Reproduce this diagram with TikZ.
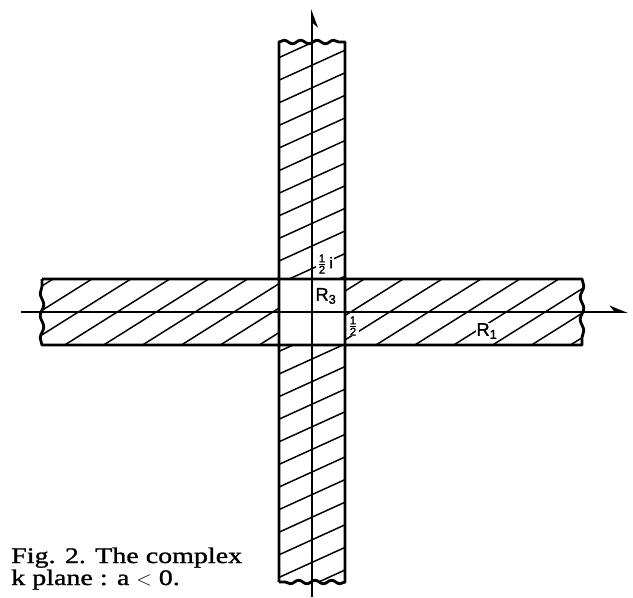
\documentclass[tikz,border=0pt]{standalone}
\usepackage{fontspec}
\setmainfont{Liberation Serif}
\newfontfamily\capfont[FakeStretch=1.26,FakeBold=1.2]{Liberation Serif}
\newfontfamily\labfont[FakeBold=1.5]{Liberation Sans}
\usetikzlibrary{arrows.meta,decorations.pathmorphing}
\newcommand\halfnum{$\frac{\mbox{\labfont\fontsize{8}{8}\selectfont 1}}%
  {\mbox{\labfont\fontsize{8}{8}\selectfont 2}}$}
\tikzset{
  % Strip outline and wavy cut ends
  stripline/.style={line width=2pt, line join=round},
  wave/.style={decoration={snake, segment length=#1, amplitude=0.45mm}},
  % Hatching and axes
  hatch/.style={line width=1.05pt},
  axisline/.style={line width=1.4pt},
  % Labels
  rlbl/.style={font=\labfont\fontsize{13}{13}\selectfont, inner sep=0.5pt, fill=white},
  hlbl/.style={font=\labfont\fontsize{11}{11}\selectfont, inner sep=0.5pt, fill=white},
  captxt/.style={font=\capfont\fontsize{15.8}{15.8}\selectfont, anchor=base west, inner sep=0pt},
}
\begin{document}
\begin{tikzpicture}[x=0.25mm,y=-0.25mm]
    \useasboundingbox (0,0) rectangle (633,597);

    % ── Hatching, vertical strip ───────────────────────────
    \begin{scope}
      \clip (279,42) rectangle (345,279) (279,345) rectangle (345,582);
      \foreach \k in {-3,...,25}
        \draw[hatch] (270,{61.7+22.6*\k}) -- (354,{23.5+22.6*\k});
    \end{scope}

    % ── Hatching, horizontal strip ─────────────────────────
    \begin{scope}
      \clip (42,279) rectangle (279,345) (345,279) rectangle (582,345);
      \foreach \k in {-2,...,15}
        \draw[hatch] ({106.3+38.9*\k},270) -- ({-29+38.9*\k},355);
    \end{scope}

    % ── Strip outlines ─────────────────────────────────────
    \draw[stripline] (279,582) -- (279,42)
          decorate[wave=4.12mm]{ -- (345,42)} -- (345,582)
          decorate[wave=4.12mm]{ -- (279,582)};
    \draw[stripline] (42,279) -- (582,279)
          decorate[wave=5.58mm]{ -- (582,345)} -- (42,345)
          decorate[wave=5.58mm]{ -- (42,279)};

    % ── Axes ───────────────────────────────────────────────
    \coordinate (xstart) at (21,312);
    \coordinate (xend)   at (628,312);
    \coordinate (ystart) at (312,597);
    \coordinate (yend)   at (312,9);
    \draw[axisline,-{Stealth[harpoon,length=4mm,width=3.2mm]}] (xstart) -- (xend);
    \draw[axisline,-{Stealth[harpoon,swap,length=4mm,width=3mm]}] (ystart) -- (yend);

    % ── Labels ─────────────────────────────────────────────
    \node[hlbl] (halfi) at (325,264) {\halfnum\,i};
    \node[rlbl] (rthree) at (326,296) {R\textsubscript{3}};
    \node[hlbl] (half) at (353,326) {\halfnum};
    \node[rlbl] (rone) at (487,331) {R\textsubscript{1}};

    % ── Caption ────────────────────────────────────────────
    \node[captxt] (capone) at (11,563) {Fig. 2. The complex};
    \node[captxt] (captwo) at (11,585) {k plane : a $<$ 0.};

\end{tikzpicture}
\end{document}
